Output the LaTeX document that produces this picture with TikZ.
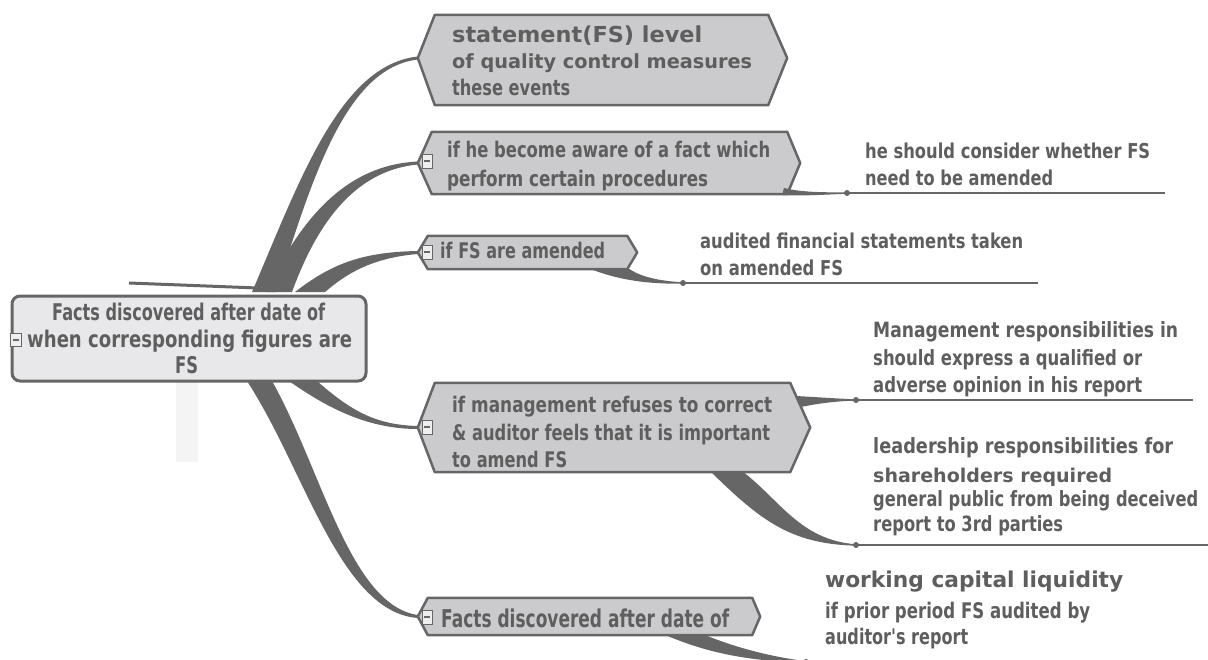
\documentclass[tikz,border=0pt]{standalone}
\usepackage{fontspec}
\setmainfont{DejaVu Sans}
\usepackage{graphicx}
\usetikzlibrary{calc,backgrounds}
\definecolor{ink}{HTML}{666666}
\definecolor{txtc}{HTML}{5E5E5E}
\definecolor{hexfill}{HTML}{CBCBCD}
\definecolor{cfill}{HTML}{E8E8EA}
\definecolor{minfill}{HTML}{EEEEEE}
\definecolor{ghost}{HTML}{F4F4F4}
\newcommand{\Txt}[6]{\node[txt] (#1) at (#2,#3) {\resizebox{#4pt}{\height}{\fontsize{#5pt}{#5pt}\selectfont #6}};}
\tikzset{
  txt/.style={anchor=base west, inner sep=0pt, text=txtc, font=\bfseries},
  branch/.style={fill=ink},
  hexline/.style={draw=ink, line width=2.5pt, fill=hexfill, line join=round},
  hexbase/.style={inner sep=0pt, draw=none},
  minus/.style={draw=ink, fill=minfill, line width=0.8pt, minimum width=10pt, minimum height=14pt, inner sep=0pt,
    path picture={\draw[ink, line width=1.3pt] ($(path picture bounding box.center)+(-3,0)$) -- ($(path picture bounding box.center)+(3,0)$);}},
  leaf/.style={draw=ink, line width=1.5pt},
  dot/.style={circle, fill=ink, inner sep=0pt, minimum size=6pt}
}
\begin{document}
\begin{tikzpicture}[x=1pt,y=-1pt]
\useasboundingbox (0,0) rectangle (1208,659);
% hexagon frames (invisible rectangles)
\node[hexbase, minimum width=333pt, minimum height=90pt] (h1) at (601.5,60) {};
\node[hexbase, minimum width=355pt, minimum height=62pt] (h2) at (609.5,163) {};
\node[hexbase, minimum width=199pt, minimum height=33pt] (h3) at (527.5,252.5) {};
\node[hexbase, minimum width=355pt, minimum height=89pt] (h4) at (612.5,427.5) {};
\node[hexbase, minimum width=324pt, minimum height=37pt] (h5) at (590,616.5) {};
\coordinate (h1L) at ($(h1.west)+(-17,-2)$);
\coordinate (h2L) at ($(h2.west)+(-14,0)$);
\coordinate (h3L) at ($(h3.west)+(-10,0)$);
\coordinate (h4L) at ($(h4.west)+(-17,0)$);
\coordinate (h5L) at ($(h5.west)+(-10,0)$);
% dots and leaf ends
\node[dot] (d2) at (847,193) {};
\node[dot] (d3) at (683,283) {};
\node[dot] (d4) at (856,400) {};
\node[dot] (d5) at (856,545) {};
\node[dot] (d6) at (806,662) {};
\coordinate (e2) at (1165,193);
\coordinate (e3) at (1038,283);
\coordinate (e4) at (1193,400);
\coordinate (e5) at (1208,545);
\coordinate (e6) at (1208,662);
\begin{scope}[on background layer]
  \fill[white] (0,0) rectangle (1208,659);
  \fill[ghost] (176,382) rectangle (198,462);
  % main branches
  \fill[branch] (252,292) .. controls (300,180) and (340,65) .. ($(h1L)+(0,-1.5)$)
     -- ($(h1L)+(0,1.5)$) .. controls (345,68) and (312,180) .. (276,292) -- cycle;
  \fill[branch] (266,292) .. controls (300,220) and (345,165) .. ($(h2L)+(0,-1.5)$)
     -- ($(h2L)+(0,1.5)$) .. controls (360,170) and (320,215) .. (292,292) -- cycle;
  \fill[branch] (295,292) .. controls (330,265) and (360,252) .. ($(h3L)+(0,-1.5)$)
     -- ($(h3L)+(0,1.5)$) .. controls (370,258) and (345,275) .. (325,292) -- cycle;
  \fill[branch] (317,381) .. controls (350,410) and (375,425) .. ($(h4L)+(0,-1.5)$)
     -- ($(h4L)+(0,1.5)$) .. controls (370,429) and (330,410) .. (289,381) -- cycle;
  \fill[branch] (247,381) .. controls (305,470) and (340,612) .. ($(h5L)+(0,1.5)$)
     -- ($(h5L)+(0,-1.5)$) .. controls (350,605) and (322,470) .. (272,381) -- cycle;
  % hexagons
  \path[hexline] (h1.north west) -- (h1.north east) -- ($(h1.east)+(19,-2)$) -- (h1.south east) -- (h1.south west) -- (h1L) -- cycle;
  \path[hexline] (h2.north west) -- (h2.north east) -- ($(h2.east)+(13,0)$) -- (h2.south east) -- (h2.south west) -- (h2L) -- cycle;
  \path[hexline] (h3.north west) -- (h3.north east) -- ($(h3.east)+(10,0)$) -- (h3.south east) -- (h3.south west) -- (h3L) -- cycle;
  \path[hexline] (h4.north west) -- (h4.north east) -- ($(h4.east)+(20,0)$) -- (h4.south east) -- (h4.south west) -- (h4L) -- cycle;
  \path[hexline] (h5.north west) -- (h5.north east) -- ($(h5.east)+(8,0)$) -- (h5.south east) -- (h5.south west) -- (h5L) -- cycle;
  % thin wedges to leaves
  \fill[branch] (784,188) .. controls (800,192) and (820,192.5) .. ($(d2.center)+(0,-0.7)$)
     -- ($(d2.center)+(0,0.7)$) .. controls (820,195) and (800,196) .. (782,195) -- cycle;
  \fill[branch] (588,268) -- (628,268) .. controls (640,277) and (660,281) .. ($(d3.center)+(0,-0.7)$)
     -- ($(d3.center)+(0,0.7)$) .. controls (650,284) and (620,281) .. (588,268) -- cycle;
  \fill[branch] (796,396) .. controls (815,397) and (835,398.5) .. ($(d4.center)+(0,-0.7)$)
     -- ($(d4.center)+(0,0.7)$) .. controls (835,401) and (815,404) .. (801,407) -- cycle;
  \fill[branch] (710,471) .. controls (760,520) and (790,544) .. ($(d5.center)+(0,0.7)$)
     -- ($(d5.center)+(0,-0.7)$) .. controls (800,540) and (780,500) .. (742,471) -- cycle;
  \fill[branch] (663,634) .. controls (700,650) and (740,661) .. ($(d6.center)+(0,0.7)$)
     -- ($(d6.center)+(0,-0.7)$) .. controls (760,655) and (730,645) .. (702,634) -- cycle;
\end{scope}
% leaf lines
\draw[leaf] (d2.center) -- (e2);
\draw[leaf] (d3.center) -- (e3);
\draw[leaf] (d4.center) -- (e4);
\draw[leaf] (d5.center) -- (e5);
\draw[leaf] (d6.center) -- (e6);
% central topic
\node[draw=ink, line width=3pt, fill=cfill, rounded corners=8pt, minimum width=354pt, minimum height=85pt] (c) at (189,338.5) {};
\coordinate (s1) at (129,283);
\coordinate (s2) at (258,288);
\draw[ink, line width=3pt] (s1) -- (s2);
% minus boxes
\node[minus, minimum width=11pt, minimum height=13pt] (mc) at (16,340) {};
\node[minus] (m2) at (427,161) {};
\node[minus] (m3) at (427,252) {};
\node[minus] (m4) at (427,427) {};
\node[minus] (m5) at (427,617) {};
% texts
\Txt{t1a}{452}{42}{250}{22}{statement(FS) level}
\Txt{t1b}{452}{68}{300}{19.5}{of quality control measures}
\Txt{t1c}{452}{95}{118}{21.5}{these events}
\Txt{t2a}{447}{157}{323}{21.5}{if he become aware of a fact which}
\Txt{t2b}{447}{186}{261}{21.5}{perform certain procedures}
\Txt{t3a}{440}{258}{165}{21.5}{if FS are amended}
\Txt{t4a}{452}{412}{320}{21.5}{if management refuses to correct}
\Txt{t4b}{452}{440}{318}{21.5}{\& auditor feels that it is important}
\Txt{t4c}{452}{467}{115}{21.5}{to amend FS}
\Txt{t5a}{441}{627}{288}{24.5}{Facts discovered after date of}
\Txt{c1}{52}{320}{273}{23}{Facts discovered after date of}
\Txt{c2}{27}{347}{325}{23}{when corresponding figures are}
\Txt{c3}{175}{373}{23}{23}{FS}
\Txt{r2a}{865}{158}{285}{20.5}{he should consider whether FS}
\Txt{r2b}{865}{185}{188}{20.5}{need to be amended}
\Txt{r3a}{700}{248}{323}{20.5}{audited financial statements taken}
\Txt{r3b}{700}{275}{143}{20.5}{on amended FS}
\Txt{r4a}{873}{337}{305}{21}{Management responsibilities in}
\Txt{r4b}{873}{365}{269}{21}{should express a qualified or}
\Txt{r4c}{873}{392}{269}{21}{adverse opinion in his report}
\Txt{r5a}{873}{453}{300}{21}{leadership responsibilities for}
\Txt{r5b}{873}{482}{239}{19}{shareholders required}
\Txt{r5c}{873}{506}{325}{21}{general public from being deceived}
\Txt{r5d}{873}{531}{190}{21}{report to 3rd parties}
\Txt{r6a}{825}{587}{298}{21.8}{working capital liquidity}
\Txt{r6b}{825}{618}{265}{21.5}{if prior period FS audited by}
\Txt{r6c}{825}{644}{143}{21.5}{auditor\textquotesingle s report}
\end{tikzpicture}
\end{document}
